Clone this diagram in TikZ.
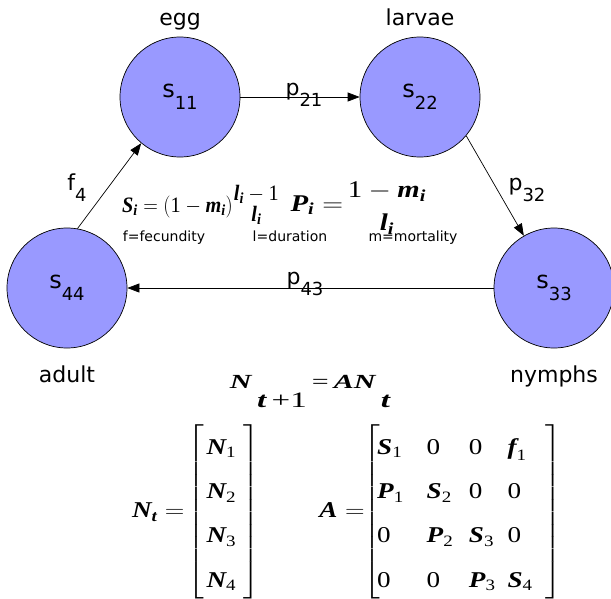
\RequirePackage{fix-cm}
\documentclass[tikz,border=0pt]{standalone}
\usepackage{amsmath}
\usepackage{graphicx}
\usepackage{fontspec}
\setmainfont{DejaVu Sans}
\newfontfamily\tnr{Liberation Serif}
\usetikzlibrary{arrows.meta,positioning}
\definecolor{stagefill}{RGB}{153,153,255}
\newcommand{\bi}[1]{\text{\tnr\bfseries\itshape #1}}
\newcommand{\rn}[1]{\text{\tnr #1}}
\newcommand{\lo}[1]{\raisebox{-0.5em}{\fontsize{18}{18}\selectfont #1}}
\newcommand{\wide}[2][1.2]{\scalebox{#1}[1]{#2}}
\newcommand{\stk}[2]{\genfrac{}{}{0pt}{1}{\textstyle #1}{\textstyle #2}}

\begin{document}
\begin{tikzpicture}[x=1pt,y=-1pt,
    stage/.style={circle, draw=black, line width=0.7pt, fill=stagefill, minimum size=120pt, inner sep=0pt, font=\fontsize{24}{24}\selectfont},
    tag/.style={anchor=base, inner sep=0pt, font=\fontsize{22}{22}\selectfont},
    rate/.style={anchor=base, inner sep=0pt, font=\fontsize{22}{22}\selectfont},
    key/.style={anchor=base, inner sep=0pt, font=\fontsize{14}{14}\selectfont},
    eqn/.style={inner sep=0pt},
    flow/.style={-{Triangle[length=12pt,width=9pt]}, line width=0.7pt}
]
\useasboundingbox (0,0) rectangle (611,598);

\node[stage] (s11) at (180,97) {s\lo{11}};
\node[stage] (s22) at (420,97) {s\lo{22}};
\node[stage] (s33) at (554,288) {s\lo{33}};
\node[stage] (s44) at (67,288) {s\lo{44}};

\node[tag] (egg) at (180,25) {egg};
\node[tag] (larvae) at (420,25) {larvae};
\node[tag] (adult) at (67,382) {adult};
\node[tag] (nymphs) at (554,382) {nymphs};

\draw[flow] (s11) -- (s22);
\draw[flow] (s22.-40) -- (s33.120);
\draw[flow] (s33) -- (s44);
\draw[flow] (s44.80) -- (s11.230);

\node[rate] (f4) at (77,190) {f\lo{4}};
\node[rate] (p21) at (304,95) {p\lo{21}};
\node[rate] (p32) at (527,190) {p\lo{32}};
\node[rate] (p43) at (305,284) {p\lo{43}};

\node[eqn, anchor=base] (surv) at (201,212) {\wide[0.92]{\fontsize{22}{24}\selectfont$\bi{S}_{\bi{i}} = (\rn{1} - \bi{m}_{\bi{i}})\stk{\bi{l}_{\bi{i}} - \rn{1}}{\bi{l}_{\bi{i}}}$}};
\node[eqn, anchor=base] (trans) at (359,211) {\wide[1.2]{\fontsize{24}{26}\selectfont$\bi{P}_{\bi{i}} =\! \raisebox{-3pt}{$\displaystyle\genfrac{}{}{0pt}{0}{\rn{1} - \bi{m}_{\bi{i}}}{\bi{l}_{\bi{i}}}$}$}};

\node[key] (fkey) at (164,241) {f=fecundity};
\node[key] (lkey) at (290,241) {l=duration};
\node[key] (mkey) at (413,241) {m=mortality};

\node[eqn] (recur) at (310,391) {\wide[1.5]{\fontsize{20}{22}\selectfont\tnr\bfseries\itshape N\raisebox{-19pt}{\fontsize{22}{22}\selectfont\,t\,\mdseries\upshape+1}\,\mdseries\upshape=\,\bfseries\itshape AN\raisebox{-19pt}{\fontsize{22}{22}\selectfont\,t}}};

\node[eqn] (vecN) at (196,512) {\wide{\fontsize{22.6}{26}\selectfont$\bi{N}_{\bi{t}} =\! \left[\renewcommand{\arraystretch}{1.7}\begin{array}{@{\hspace{2pt}}l@{\hspace{6pt}}}\bi{N}_{\rn{1}}\\ \bi{N}_{\rn{2}}\\ \bi{N}_{\rn{3}}\\ \bi{N}_{\rn{4}}\end{array}\right]$}};
\node[eqn] (matA) at (441,512) {\wide{\fontsize{22.6}{26}\selectfont$\bi{A} =\!\!\left[\renewcommand{\arraystretch}{1.7}\begin{array}{@{\hspace{-2pt}}l@{\hspace{19pt}}l@{\hspace{13pt}}l@{\hspace{10pt}}l@{\hspace{11pt}}}\bi{S}_{\rn{1}} & \rn{0} & \rn{0} & \bi{f}_{\rn{1}}\\ \bi{P}_{\rn{1}} & \bi{S}_{\rn{2}} & \rn{0} & \rn{0}\\ \rn{0} & \bi{P}_{\rn{2}} & \bi{S}_{\rn{3}} & \rn{0}\\ \rn{0} & \rn{0} & \bi{P}_{\rn{3}} & \bi{S}_{\rn{4}}\end{array}\right]$}};
\end{tikzpicture}
\end{document}
